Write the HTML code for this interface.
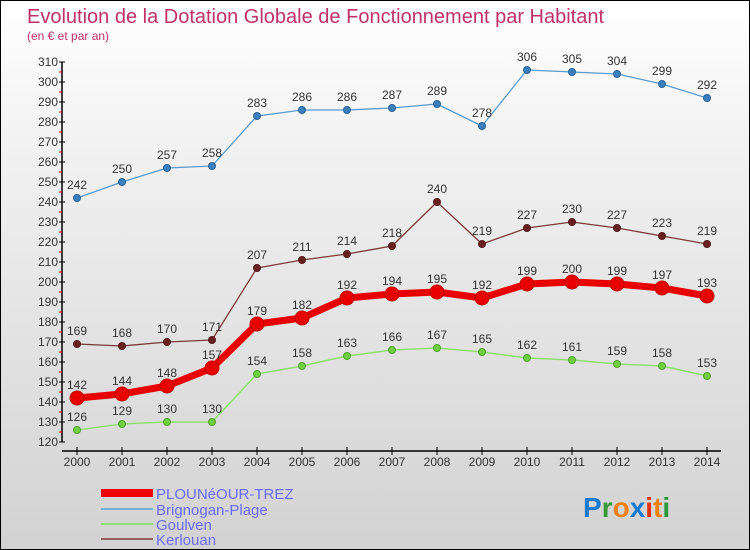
<!DOCTYPE html>
<html><head><meta charset="utf-8"><style>
body{margin:0}
#c{width:750px;height:550px;position:relative;box-sizing:border-box;border:1px solid #000;background:linear-gradient(#fff 0%,#f0f0f0 30%,#d2d2d2 100%);font-family:"Liberation Sans",sans-serif;overflow:hidden}
svg text{font-family:"Liberation Sans",sans-serif}
</style></head><body>
<div id="c">
<svg width="750" height="550" id="svg">
<text x="26" y="22" font-size="20" fill="#c0306a">Evolution de la Dotation Globale de Fonctionnement par Habitant</text>
<text x="26" y="39" font-size="12" fill="#c0306a">(en € et par an)</text>
<g id="axes"></g><g id="series"></g>
<g>
<line x1="100" y1="492" x2="152" y2="492" stroke="#e00" stroke-width="8"/>
<text x="155" y="498" font-size="15" fill="#6a6aff">PLOUNéOUR-TREZ</text>
<line x1="100" y1="508" x2="152" y2="508" stroke="#7aaed0" stroke-width="2"/>
<text x="155" y="514" font-size="15" fill="#6a6aff">Brignogan-Plage</text>
<line x1="100" y1="523" x2="152" y2="523" stroke="#90e070" stroke-width="2"/>
<text x="155" y="529" font-size="15" fill="#6a6aff">Goulven</text>
<line x1="100" y1="538" x2="152" y2="538" stroke="#906060" stroke-width="2"/>
<text x="155" y="544" font-size="15" fill="#6a6aff">Kerlouan</text>
</g>
<g font-size="28" font-weight="bold">
<text x="582" y="516"><tspan fill="#1a7ad0">P</tspan><tspan fill="#3a9a3a">r</tspan><tspan fill="#f08010">o</tspan><tspan fill="#1a7ad0">x</tspan><tspan fill="#e03010">i</tspan><tspan fill="#f08010">t</tspan><tspan fill="#2a9a3a">i</tspan></text>
</g>
</svg></div>
<script>
const years=["2000","2001","2002","2003","2004","2005","2006","2007","2008","2009","2010","2011","2012","2013","2014"];
const yTicks=[120,130,140,150,160,170,180,190,200,210,220,230,240,250,260,270,280,290,300,310];
const plouneour=[142,144,148,157,179,182,192,194,195,192,199,200,199,197,193];
const brignogan=[242,250,257,258,283,286,286,287,289,278,306,305,304,299,292];
const goulven=[126,129,130,130,154,158,163,166,167,165,162,161,159,158,153];
const kerlouan=[169,168,170,171,207,211,214,218,240,219,227,230,227,223,219];
const NS="http://www.w3.org/2000/svg";
function X(i){return 76+i*45;}
function Y(v){return 441-(v-120)*2;}
function mk(t,a,p){const e=document.createElementNS(NS,t);for(const k in a)e.setAttribute(k,a[k]);p.appendChild(e);return e;}
const ax=document.getElementById('axes');
const ya=mk('line',{x1:61,y1:Y(310),x2:61,y2:Y(120),stroke:'#000','stroke-width':1.5},ax);


yTicks.forEach(v=>{
 mk('line',{x1:58,y1:Y(v),x2:64,y2:Y(v),stroke:'#000'},ax);
 if(v<310)mk('line',{x1:58,y1:Y(v+5),x2:61,y2:Y(v+5),stroke:'#e00'},ax);
 const t=mk('text',{x:57,y:Y(v)+4,'font-size':12,'text-anchor':'end',fill:'#333'},ax);t.textContent=v;
 
 
});
const xa=mk('line',{x1:61,y1:450,x2:720,y2:450,stroke:'#000','stroke-width':1.5},ax);


years.forEach((y,i)=>{
 mk('line',{x1:X(i),y1:446,x2:X(i),y2:454,stroke:'#000'},ax);
 const t=mk('text',{x:X(i),y:465,'font-size':12,'text-anchor':'middle',fill:'#333'},ax);t.textContent=y;
 
 
});
const sg=document.getElementById('series');
function series(name,vals,color,w,r,dot,dotStroke){
 const g=mk('g',{},sg);
 
 
 mk('polyline',{points:vals.map((v,i)=>X(i)+','+Y(v)).join(' '),fill:'none',stroke:color,'stroke-width':w,'stroke-linejoin':'round'},g);
 vals.forEach((v,i)=>{
  const c=mk('circle',{cx:X(i),cy:Y(v),r:r,fill:dot,stroke:dotStroke,'stroke-width':1},g);
  
  
  const t=mk('text',{x:X(i),y:Y(v)-9,'font-size':12,'text-anchor':'middle',fill:'#333'},g);t.textContent=v;
  
  
 });
}
series('brignogan',brignogan,'#5a9ad0',1.3,3.5,'#3a80c0','#2a6090');
series('kerlouan',kerlouan,'#7a3a3a',1.3,3.5,'#6a2020','#501818');
series('goulven',goulven,'#90e070',1.5,3.5,'#70d040','#50a030');
series('plouneour',plouneour,'#e80000',7,7,'#e80000','#c00000');
</script>
</body></html>
